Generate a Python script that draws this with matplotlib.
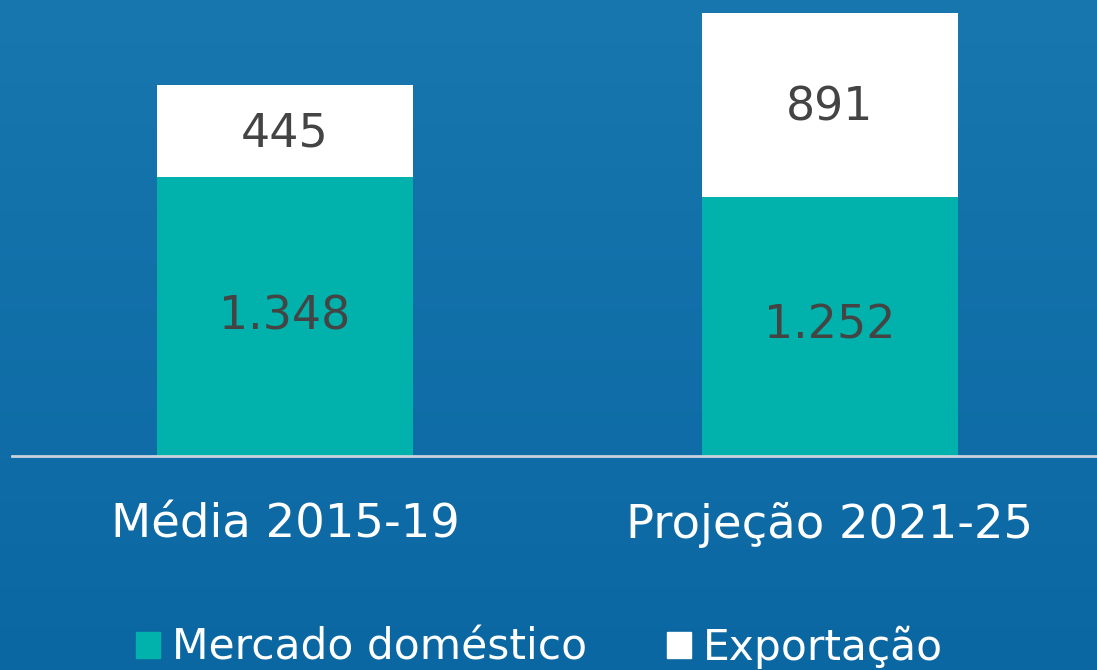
import numpy as np
import matplotlib.pyplot as plt
from matplotlib.patches import Patch

categories = ['Média 2015-19', 'Projeção 2021-25']
domestico = [1348, 1252]
exportacao = [445, 891]
legend_labels = ['Mercado doméstico', 'Exportação']

teal = '#00b2ab'
white = '#ffffff'
label_grey = '#444444'

fig = plt.figure(figsize=(10.97, 6.70), dpi=100)

# blue background gradient, lighter at the top
bg = fig.add_axes([0, 0, 1, 1], zorder=0)
grad = np.linspace(0, 1, 256).reshape(-1, 1)
top = np.array([0x18, 0x77, 0xaf]) / 255
bottom = np.array([0x0b, 0x67, 0xa2]) / 255
img = top + (bottom - top) * grad[..., None]
bg.imshow(np.repeat(img, 2, axis=1), aspect='auto', extent=[0, 1, 0, 1])
bg.axis('off')

ax = fig.add_axes([0, 214 / 670, 1, 456 / 670], zorder=1)
ax.patch.set_alpha(0)
x = np.arange(len(categories))
width = 0.47
ax.bar(x, domestico, width, color=teal)
ax.bar(x, exportacao, width, bottom=domestico, color=white)

def fmt(v):
    return f'{v:,}'.replace(',', '.')

for i in range(len(categories)):
    ax.text(x[i], domestico[i] / 2, fmt(domestico[i]), ha='center', va='center',
            fontsize=33, color=label_grey)
    ax.text(x[i], domestico[i] + exportacao[i] / 2 - 15, fmt(exportacao[i]),
            ha='center', va='center', fontsize=33, color=label_grey)
    ax.text(x[i], -335, categories[i], ha='center', va='center',
            fontsize=33.5, color='white')

ax.set_xlim(-285 / 545, 812 / 545)
ax.set_ylim(0, 456 / 0.2069)
ax.axhline(0, xmin=12 / 1097, xmax=1, color='#c9d3dc', lw=2, clip_on=False)
ax.axis('off')

handles = [Patch(color=teal), Patch(color=white)]
fig.legend(handles, legend_labels, loc='center',
           bbox_to_anchor=(0.5 - 9 / 1097, 1 - 647 / 670),
           ncol=2, frameon=False, fontsize=30.5, labelcolor='white',
           handlelength=0.56, handleheight=0.56, handletextpad=0.28, columnspacing=1.9)

fig.savefig('out.png', dpi=100)
